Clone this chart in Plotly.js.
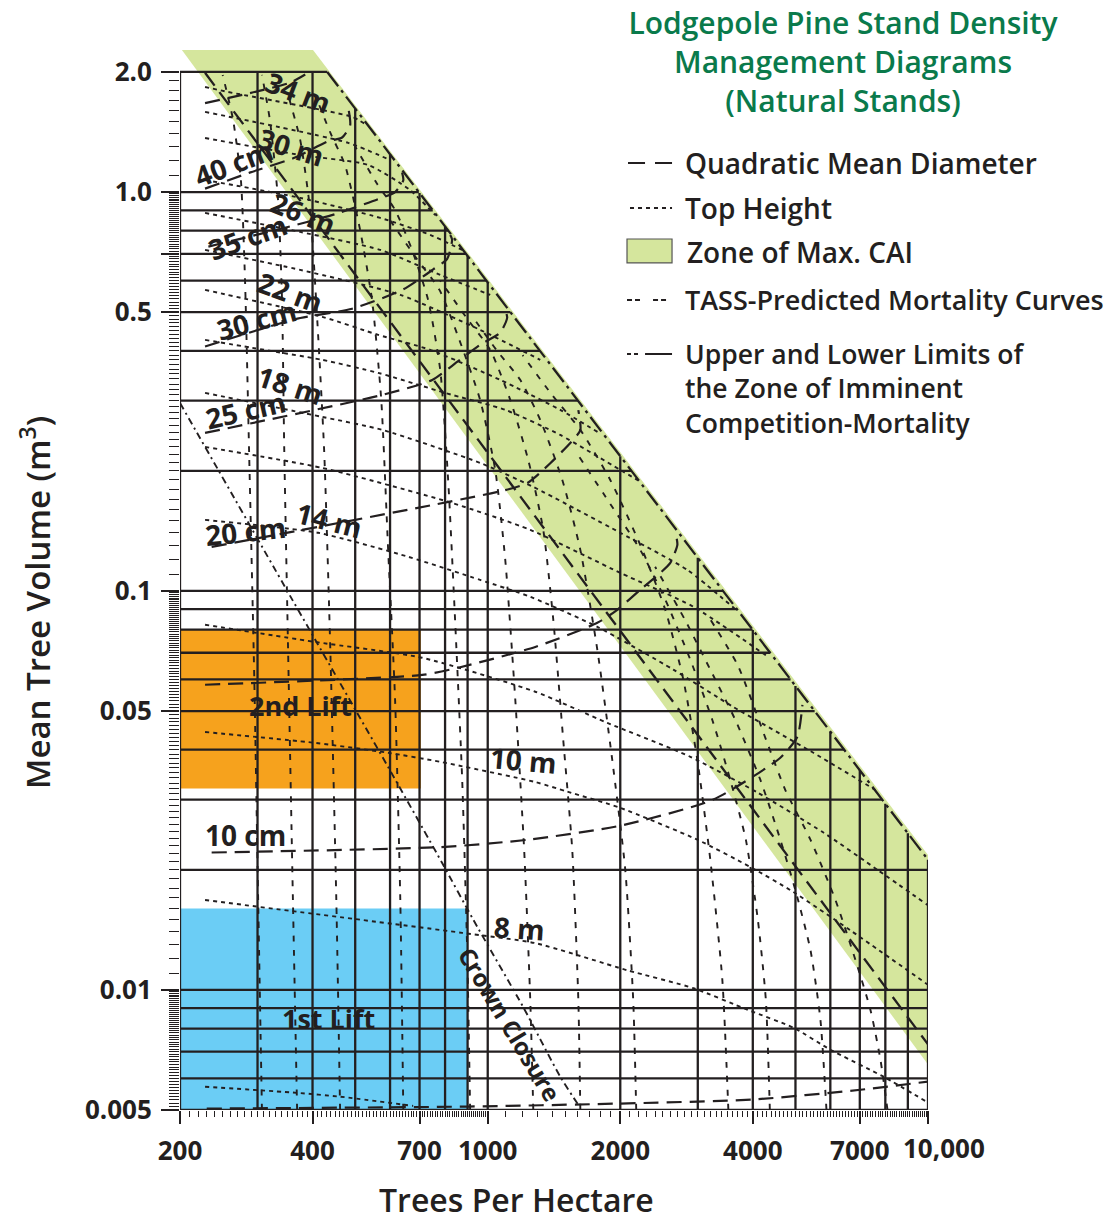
<!DOCTYPE html>
<html>
<head>
<meta charset="utf-8">
<script src="https://cdn.plot.ly/plotly-3.0.1.min.js"></script>
<style>html,body{margin:0;padding:0;background:#fff}#chart{width:1113px;height:1222px}</style>
</head>
<body>
<div id="chart"></div>
<script>
// ---------- axes / grid ----------
const xGrid = [200,300,400,500,600,700,800,900,1000,2000,3000,4000,5000,6000,7000,8000,9000,10000];
const yGrid = [0.005,0.006,0.007,0.008,0.009,0.01,0.02,0.03,0.04,0.05,0.06,0.07,0.08,0.09,0.1,0.2,0.3,0.4,0.5,0.6,0.7,0.8,0.9,1.0,2.0];
const xTickVals = [200,400,700,1000,2000,4000,7000,10000];
const xTickText = ['200','400','700','1000','2000','4000','7000','10,000'];
const yTickVals = [2.0,1.0,0.5,0.1,0.05,0.01,0.005];
const yTickText = ['2.0','1.0','0.5','0.1','0.05','0.01','0.005'];

// ---------- zones ----------
const caiN = [202, 401, 10000, 10000];
const caiV = [2.27, 2.27, 0.0218, 0.0065];
const lift2N = [200, 705];
const lift2V = [0.032, 0.08];
const lift1N = [200, 900];
const lift1V = [0.005, 0.016];

// ---------- limits of zone of imminent competition-mortality ----------
const ulN = [432, 10000];
const ulV = [2.0, 0.0212];
const llN = [228, 10000];
const llV = [1.99, 0.0073];

// ---------- quadratic mean diameter ----------
const dq45N = [228, 301, 356, 385];
const dq45V = [1.67, 1.79, 1.88, 1.97];
const dq40N = [228, 289, 365, 434, 467, 487, 482];
const dq40V = [1.02, 1.12, 1.22, 1.34, 1.37, 1.47, 1.63];
const dq35N = [232, 341, 450, 564, 616, 643, 639];
const dq35V = [0.73, 0.81, 0.88, 0.96, 1.0, 1.07, 1.12];
const dq30N = [228, 365, 492, 643, 752, 809, 830, 822];
const dq30V = [0.41, 0.48, 0.51, 0.57, 0.64, 0.68, 0.76, 0.78];
const dq25N = [228, 576, 748, 852, 961, 1067, 1107, 1096];
const dq25V = [0.249, 0.310, 0.338, 0.375, 0.414, 0.444, 0.484, 0.507];
const dq20N = [236, 1096, 1236, 1387, 1540, 1623, 1606];
const dq20V = [0.129, 0.179, 0.187, 0.209, 0.235, 0.253, 0.284];
const dq15N = [228, 710, 857, 1282, 1774, 1969, 2220, 2466, 2598, 2696, 2682];
const dq15V = [0.0582, 0.0616, 0.0642, 0.0724, 0.0832, 0.0897, 0.1007, 0.111, 0.1176, 0.1305, 0.1367];
const dq10N = [236, 780, 1236, 2000, 3254, 4620, 5050, 5185];
const dq10V = [0.0221, 0.0228, 0.0238, 0.0258, 0.0300, 0.0382, 0.0431, 0.0518];
const dq7N = [230, 898, 2000, 3990, 7024, 10000];
const dq7V = [0.00504, 0.0051, 0.00519, 0.00531, 0.00562, 0.00589];

// ---------- top height ----------
const h6N = [228, 369, 462, 677];
const h6V = [0.00572, 0.00552, 0.0054, 0.00512];
const h8N = [228, 875, 1282, 2074, 2931, 3898, 4945, 6004, 7923, 10000];
const h8V = [0.0168, 0.0139, 0.0131, 0.0112, 0.0101, 0.00891, 0.00804, 0.00708, 0.00606, 0.00522];
const h10N = [228, 406, 594, 780, 1282, 1516, 2000, 2993, 3959, 4945, 6665, 10000];
const h10V = [0.0443, 0.0416, 0.0393, 0.0373, 0.0332, 0.0314, 0.0286, 0.0238, 0.0203, 0.0176, 0.0141, 0.0103];
const h12N = [228, 406, 710, 1282, 1869, 2886, 4107, 5788, 7677, 10000];
const h12V = [0.0823, 0.0745, 0.068, 0.0559, 0.0467, 0.0384, 0.0312, 0.0248, 0.02, 0.0163];
const h14N = [228, 412, 660, 961, 1249, 1774, 2640, 3613, 5492, 7596];
const h14V = [0.1507, 0.1399, 0.1218, 0.1066, 0.0967, 0.0813, 0.0635, 0.0512, 0.0393, 0.0317];
const h16N = [228, 421, 830, 1249, 2000, 2931, 4282];
const h16V = [0.2297, 0.2034, 0.1662, 0.1423, 0.111, 0.0913, 0.069];
const h18N = [228, 421, 576, 961, 1269, 2000, 2841, 3651];
const h18V = [0.3137, 0.2731, 0.2534, 0.2094, 0.1823, 0.1399, 0.1129, 0.090];
const h20N = [228, 292, 421, 564, 800, 1096, 1461, 2000, 2220];
const h20V = [0.426, 0.4068, 0.3796, 0.3521, 0.3137, 0.2844, 0.2461, 0.2011, 0.188];
const h22N = [228, 421, 564, 740, 1067, 1461, 1802];
const h22V = [0.5685, 0.4866, 0.4385, 0.4022, 0.3382, 0.2844, 0.248];
const h24N = [228, 375, 633, 961, 1316];
const h24V = [0.7161, 0.638, 0.5524, 0.4513, 0.3796];
const h26N = [228, 375, 570, 780, 1013];
const h26V = [0.8865, 0.7943, 0.7161, 0.6198, 0.5524];
const h28N = [228, 375, 570, 740, 875];
const h28V = [1.072, 0.9669, 0.8613, 0.7807, 0.7161];
const h30N = [228, 375, 535, 666, 760];
const h30V = [1.366, 1.2385, 1.169, 1.012, 0.875];
const h32N = [228, 482, 600];
const h32V = [1.588, 1.328, 1.203];
const h34N = [228, 257, 492, 527];
const h34V = [1.834, 1.782, 1.543, 1.48];

// ---------- TASS-predicted mortality curves ----------
const m1N = [307, 301, 295, 287, 281, 275, 264, 250];
const m1V = [0.005, 0.0168, 0.0599, 0.2257, 0.6022, 1.072, 1.517, 1.966];
const m2N = [369, 361, 352, 345, 341, 334, 320, 307];
const m2V = [0.005, 0.0168, 0.0712, 0.2257, 0.5367, 0.9559, 1.517, 1.966];
const m3N = [462, 453, 439, 425, 410, 395, 375, 352];
const m3V = [0.005, 0.0168, 0.0712, 0.2257, 0.4782, 0.9019, 1.351, 1.753];
const m4N = [643, 633, 616, 594, 573, 546, 513, 474, 440, 410];
const m4V = [0.005, 0.0168, 0.0534, 0.1268, 0.3013, 0.5367, 0.8035, 1.169, 1.4, 1.7];
const m5N = [912, 898, 875, 843, 813, 780, 732, 673, 616, 560, 500];
const m5V = [0.005, 0.0126, 0.0336, 0.0847, 0.1898, 0.3582, 0.5367, 0.7161, 0.9019, 1.05, 1.3];
const m6N = [1269, 1249, 1210, 1155, 1096, 1040, 961, 862, 777, 690, 600];
const m6V = [0.005, 0.00945, 0.0224, 0.0534, 0.1197, 0.2011, 0.3013, 0.426, 0.5685, 0.68, 0.85];
const m7N = [1623, 1606, 1556, 1484, 1409, 1337, 1236, 1125, 1013, 900, 780];
const m7V = [0.005, 0.00945, 0.0224, 0.0424, 0.0847, 0.1423, 0.213, 0.3013, 0.4022, 0.48, 0.6];
const m8N = [2174, 2140, 2053, 1918, 1774, 1623, 1477, 1316, 1185, 1050, 920];
const m8V = [0.005, 0.00945, 0.02, 0.0377, 0.0712, 0.1268, 0.1898, 0.2685, 0.3382, 0.40, 0.49];
const m9N = [3520, 3411, 3203, 2993, 2782, 2531, 2220, 1898, 1623, 1400, 1200];
const m9V = [0.005, 0.0106, 0.0212, 0.0377, 0.0599, 0.0897, 0.1305, 0.1898, 0.2534, 0.31, 0.39];
const m10N = [4373, 4282, 4107, 3857, 3556, 3237, 2886, 2531, 2220, 1900, 1600];
const m10V = [0.005, 0.00945, 0.015, 0.0238, 0.0336, 0.0475, 0.0672, 0.0951, 0.1268, 0.165, 0.22];
const m11N = [5880, 5697, 5407, 4997, 4620, 4162, 3651, 3203, 2800, 2400];
const m11V = [0.005, 0.00842, 0.0126, 0.0178, 0.0238, 0.0336, 0.0475, 0.0635, 0.085, 0.115];
const m12N = [8091, 7799, 7401, 6840, 6163, 5407, 4742, 4300, 3700, 3200];
const m12V = [0.005, 0.00668, 0.00891, 0.0119, 0.0168, 0.0238, 0.0317, 0.042, 0.065, 0.085];

// ---------- crown closure ----------
const ccN = [200, 360, 594, 788, 927, 1203, 1461, 1606];
const ccV = [0.296, 0.095, 0.0362, 0.0208, 0.015, 0.00907, 0.00606, 0.00515];

// ================= drawing =================
const INK = '#231f20';
const GREEN_TXT = '#0a7a4b';
const CAI_FILL = '#d5e69d';
const FONT = '"Open Sans", "Noto Sans", sans-serif';

function curve(xs, ys, dash, width) {
  return {type:'scatter', mode:'lines', x:xs, y:ys, hoverinfo:'skip', showlegend:false,
          line:{color:INK, width:width, dash:dash, shape:'spline', smoothing:0.6}};
}
function straight(xs, ys, dash, width) {
  return {type:'scatter', mode:'lines', x:xs, y:ys, hoverinfo:'skip', showlegend:false,
          line:{color:INK, width:width, dash:dash}};
}
function box(ns, vs, color) {
  return {type:'scatter', mode:'lines', fill:'toself', fillcolor:color, hoverinfo:'skip', showlegend:false,
          x:[ns[0], ns[1], ns[1], ns[0], ns[0]], y:[vs[0], vs[0], vs[1], vs[1], vs[0]], line:{width:0, color:color}};
}

// upper limit line as a power law through its two points (used to clip the grid)
const slope = Math.log(ulV[1]/ulV[0]) / Math.log(ulN[1]/ulN[0]);
const ulAt = n => ulV[0] * Math.pow(n/ulN[0], slope);
const ulInv = v => ulN[0] * Math.pow(v/ulV[0], 1/slope);
const yTop = yGrid[yGrid.length-1], yBot = yGrid[0];
const xLeft = xGrid[0], xRight = xGrid[xGrid.length-1];

const gx = [], gy = [];
xGrid.forEach(n => { gx.push(n, n, null); gy.push(yBot, Math.min(yTop, ulAt(n)), null); });
yGrid.forEach(v => { gx.push(xLeft, Math.min(xRight, ulInv(v)), null); gy.push(v, v, null); });

const traces = [];
traces.push({type:'scatter', mode:'lines', x:caiN.concat([caiN[0]]), y:caiV.concat([caiV[0]]), fill:'toself',
             fillcolor:CAI_FILL, line:{width:0, color:CAI_FILL}, hoverinfo:'skip', showlegend:false});
traces.push(box(lift2N, lift2V, '#f6a21d'));
traces.push(box(lift1N, lift1V, '#6bcdf5'));
traces.push({type:'scatter', mode:'lines', x:gx, y:gy, connectgaps:false, hoverinfo:'skip', showlegend:false,
             line:{color:INK, width:2.3}});

const DQ = '15px,8px', HT = '4px,4px', MORT = '6px,8px', CC = '7px,4px,2px,4px';
[[dq45N,dq45V],[dq40N,dq40V],[dq35N,dq35V],[dq30N,dq30V],[dq25N,dq25V],[dq20N,dq20V],[dq15N,dq15V],[dq10N,dq10V],[dq7N,dq7V]]
  .forEach(p => traces.push(curve(p[0], p[1], DQ, 2.2)));
[[h6N,h6V],[h8N,h8V],[h10N,h10V],[h12N,h12V],[h14N,h14V],[h16N,h16V],[h18N,h18V],[h20N,h20V],[h22N,h22V],[h24N,h24V],[h26N,h26V],[h28N,h28V],[h30N,h30V],[h32N,h32V],[h34N,h34V]]
  .forEach(p => traces.push(curve(p[0], p[1], HT, 1.9)));
[[m1N,m1V],[m2N,m2V],[m3N,m3V],[m4N,m4V],[m5N,m5V],[m6N,m6V],[m7N,m7V],[m8N,m8V],[m9N,m9V],[m10N,m10V],[m11N,m11V],[m12N,m12V]]
  .forEach(p => traces.push(curve(p[0], p[1], MORT, 1.9)));
traces.push(curve(ccN, ccV, CC, 1.9));
traces.push(straight(ulN, ulV, '18px,5px,3px,5px', 2.3));
traces.push(straight(llN, llV, '16px,8px', 2.3));

// ---------- ticks ----------
const xMinor = [];
for (let v = 210; v < 1000; v += 10) xMinor.push(v);
for (let v = 1100; v < 10000; v += 100) xMinor.push(v);
const yMinor = [];
for (let i = 51; i < 100; i++) yMinor.push(i * 0.0001);
for (let i = 11; i < 100; i++) yMinor.push(i * 0.001);
for (let i = 11; i < 100; i++) yMinor.push(i * 0.01);
for (let i = 11; i < 20; i++) yMinor.push(i * 0.1);

const xTickLabel = xGrid.map(n => { const k = xTickVals.indexOf(n); return (k >= 0 && n !== 10000) ? xTickText[k] : ''; });
const yTickLabel = yGrid.map(v => { const k = yTickVals.indexOf(v); return k >= 0 ? yTickText[k] : ''; });

// ---------- in-chart labels ----------
const L = Math.log10;
function lab(text, n, v, ang, size) {
  return {xref:'x', yref:'y', x:L(n), y:L(v), text:text, showarrow:false, textangle:ang,
          font:{family:FONT, size:size || 28, color:INK, weight:700}, xanchor:'center', yanchor:'middle'};
}
const annotations = [
  lab('34 m', 371, 1.78, 21), lab('30 m', 359, 1.30, 17), lab('26 m', 381, 0.886, 22),
  lab('22 m', 356, 0.562, 20), lab('18 m', 356, 0.329, 18), lab('14 m', 438, 0.151, 14),
  lab('10 m', 1204, 0.0377, 5), lab('8 m', 1179, 0.0143, 4),
  lab('40 cm', 264, 1.18, -21), lab('35 cm', 284, 0.772, -20), lab('30 cm', 298, 0.478, -15),
  lab('25 cm', 281, 0.284, -13), lab('20 cm', 281, 0.1415, -6), lab('10 cm', 281, 0.0245, 0),
  lab('2nd Lift', 375, 0.0515, 0, 27), lab('1st Lift', 434, 0.0085, 0, 27),
  lab('Crown Closure', 1125, 0.0082, 59, 24),
  {xref:'x', yref:'paper', x:L(10000), y:-0.036, xshift:16, text:'10,000', showarrow:false,
   font:{family:FONT, size:26, color:INK, weight:700}, xanchor:'center', yanchor:'middle'},
  // axis titles
  {xref:'paper', yref:'paper', x:0.4492, y:-0.0840, text:'Trees Per Hectare', showarrow:false,
   font:{family:FONT, size:32, color:INK, weight:600}, xanchor:'center', yanchor:'middle'},
  {xref:'paper', yref:'paper', x:-0.1939, y:0.4792, text:'Mean Tree Volume (m<sup>3</sup>)', showarrow:false, textangle:-90,
   font:{family:FONT, size:33, color:INK, weight:600}, xanchor:'center', yanchor:'middle'}
];
// legend texts (paper coordinates)
function leg(text, x, y, size) {
  return {xref:'paper', yref:'paper', x:x, y:y, text:text, showarrow:false, xanchor:'left', yanchor:'middle', align:'left',
          font:{family:FONT, size:size || 28, color:INK, weight:600}};
}
annotations.push(
  leg('Quadratic Mean Diameter', 0.6725, 0.8934),
  leg('Top Height', 0.6725, 0.8509),
  leg('Zone of Max. CAI', 0.6751, 0.8094),
  leg('TASS-Predicted Mortality Curves', 0.6725, 0.7642, 27),
  leg('Upper and Lower Limits of<br>the Zone of Imminent<br>Competition-Mortality', 0.6725, 0.6802, 26.5)
);
function seg(x0, x1, y, dash) {
  return {type:'line', xref:'paper', yref:'paper', x0:x0, x1:x1, y0:y, y1:y, line:{color:INK, width:2, dash:dash || 'solid'}};
}
const shapes = [
  seg(0.5989, 0.6217, 0.8934), seg(0.6350, 0.6578, 0.8934),
  seg(0.6016, 0.6578, 0.8509, '4px,4px'),
  {type:'rect', xref:'paper', yref:'paper', x0:0.5976, x1:0.6578, y0:0.7991, y1:0.8217, fillcolor:CAI_FILL, line:{color:'#555', width:1.2}},
  seg(0.5976, 0.6150, 0.7642, '5px,3px'), seg(0.6324, 0.6511, 0.7642, '5px,3px'),
  seg(0.5976, 0.6150, 0.7132, '4px,3px'), seg(0.6217, 0.6578, 0.7132)
];

const layout = {
  width:1113, height:1222,
  margin:{l:180, r:185, t:50, b:112, pad:0},
  paper_bgcolor:'#ffffff', plot_bgcolor:'rgba(0,0,0,0)',
  showlegend:false, hovermode:false,
  font:{family:FONT, color:INK, size:26, weight:600},
  title:{text:'Lodgepole Pine Stand Density<br>Management Diagrams<br>(Natural Stands)',
         font:{family:FONT, size:30, color:GREEN_TXT, weight:600},
         xref:'container', x:0.7574, xanchor:'center', yref:'container', y:0.972, yanchor:'top'},
  xaxis:{type:'log', range:[L(200), L(10000)], tickmode:'array', tickvals:xGrid, ticktext:xTickLabel,
         ticks:'outside', ticklen:13, tickwidth:2, tickcolor:INK, ticklabelstandoff:5,
         tickfont:{family:FONT, size:26, color:INK, weight:700},
         showgrid:false, zeroline:false, showline:false, fixedrange:true,
         minor:{tickmode:'array', tickvals:xMinor, ticks:'outside', ticklen:6, tickwidth:1, tickcolor:INK, showgrid:false}},
  yaxis:{type:'log', range:[L(0.005), L(2.27)], tickmode:'array', tickvals:yGrid, ticktext:yTickLabel,
         ticks:'outside', ticklen:18, tickwidth:2, tickcolor:INK, ticklabelstandoff:4,
         tickfont:{family:FONT, size:26, color:INK, weight:700},
         showgrid:false, zeroline:false, showline:false, fixedrange:true,
         minor:{tickmode:'array', tickvals:yMinor, ticks:'outside', ticklen:10, tickwidth:1, tickcolor:INK, showgrid:false}},
  annotations:annotations,
  shapes:shapes
};

Plotly.newPlot('chart', traces, layout, {displayModeBar:false, staticPlot:true});
</script>
</body>
</html>
